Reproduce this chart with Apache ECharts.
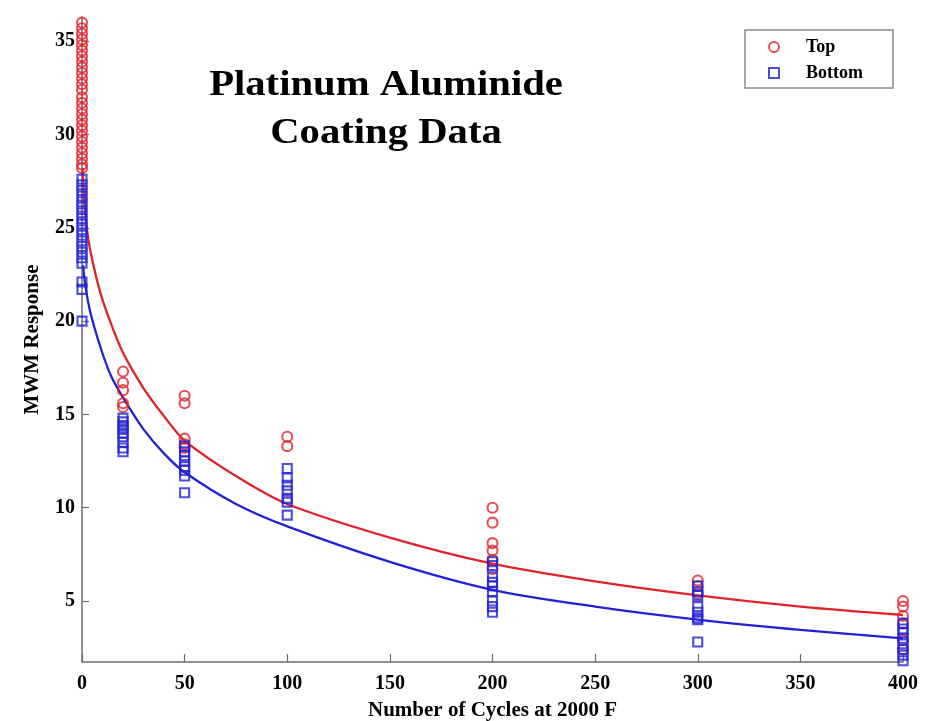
<!DOCTYPE html>
<html>
<head>
<meta charset="utf-8">
<script src="https://cdn.jsdelivr.net/npm/echarts@6/dist/echarts.min.js"></script>
<style>
  html, body { margin: 0; padding: 0; background: #fff; }
  #main { width: 935px; height: 721px; }
</style>
</head>
<body>
<div id="main"></div>
<script>
// measured cycles and the MWM readings at each one
const cycles = [0, 20, 50, 100, 200, 300, 400];
const topReadings = [
  [36.0, 35.7, 35.4, 35.1, 34.8, 34.5, 34.2, 33.9, 33.6, 33.3, 33.0, 32.7, 32.4, 32.0,
   31.7, 31.4, 31.1, 30.8, 30.5, 30.2, 29.9, 29.6, 29.3, 29.0, 28.7, 28.4, 28.2],
  [17.3, 16.7, 16.3, 15.6, 15.4],
  [16.0, 15.6, 13.7, 13.4, 13.2],
  [13.8, 13.3],
  [10.0, 9.2, 8.1, 7.7, 7.2, 6.7],
  [6.1, 5.8, 5.4],
  [5.0, 4.7, 4.2, 3.8, 2.9, 2.4]
];
const bottomReadings = [
  [27.6, 27.3, 27.0, 26.7, 26.4, 26.1, 25.8, 25.5, 25.2, 24.9, 24.6, 24.3, 24.0,
   23.7, 23.4, 23.1, 22.1, 21.7, 20.0],
  [14.8, 14.6, 14.4, 14.2, 14.0, 13.8, 13.5, 13.2, 13.0],
  [13.3, 13.0, 12.8, 12.5, 12.2, 12.0, 11.7, 10.8],
  [12.1, 11.6, 11.2, 10.9, 10.5, 10.3, 9.6],
  [7.1, 6.9, 6.3, 6.0, 5.8, 5.5, 5.0, 4.7, 4.4],
  [5.8, 5.5, 5.3, 4.7, 4.4, 4.1, 4.0, 2.8],
  [3.8, 3.5, 3.3, 3.0, 2.7, 2.4, 2.1, 1.8]
];

// fitted curves
const topFitX = [0.3, 1, 2, 4, 9, 14, 20, 30, 40, 50, 75, 100, 150, 200, 250, 300, 350, 400];
const topFitY = [28.2, 26.6, 25.3, 23.8, 21.5, 19.9, 18.3, 16.4, 14.9, 13.6, 11.7, 10.2, 8.4, 7.0, 6.05, 5.3, 4.7, 4.25];
const bottomFitX = [0.5, 1.5, 4, 9, 14, 20, 30, 40, 50, 75, 100, 150, 200, 250, 300, 350, 400];
const bottomFitY = [23.0, 22.0, 20.5, 18.6, 17.1, 15.9, 14.2, 12.9, 11.9, 10.2, 9.0, 7.1, 5.6, 4.7, 4.0, 3.45, 3.0];

const yTicks = [5, 10, 15, 20, 25, 30, 35];

const RED = "#e0232a";
const BLUE = "#2222d4";
const FONT = "'Liberation Serif', 'Times New Roman', serif";

function toPoints(readings) {
  const out = [];
  readings.forEach(function(vals, i) {
    vals.forEach(function(v) {
      out.push([cycles[i], v]);
    });
  });
  return out;
}
function zip(xs, ys) {
  return xs.map(function(x, i) {
    return [x, ys[i]];
  });
}

const chart = echarts.init(document.getElementById("main"));

const option = {
  backgroundColor: "#fff",
  animation: false,
  grid: {
    left: 82,
    right: 32,
    top: 17,
    bottom: 59,
    outerBoundsMode: "none"
  },
  graphic: [
    {
      type: "text",
      x: 386,
      y: 62,
      scaleX: 1.13,
      z: 10,
      style: {
        text: "Platinum Aluminide\nCoating Data",
        align: "center",
        font: "bold 36px " + FONT,
        lineHeight: 48,
        fill: "#000"
      }
    }
  ],
  legend: {
    data: ["Top", "Bottom"],
    orient: "vertical",
    left: 745,
    top: 30,
    padding: [7, 30, 5, 23],
    itemWidth: 10,
    itemHeight: 10,
    itemGap: 6,
    borderColor: "#8a8a8a",
    borderWidth: 1.5,
    textStyle: {
      fontFamily: FONT,
      fontWeight: "bold",
      fontSize: 18,
      color: "#000",
      lineHeight: 20,
      padding: [0, 0, 0, 22]
    }
  },
  xAxis: {
    type: "value",
    min: 0,
    max: 400,
    interval: 50,
    name: "Number of Cycles at 2000 F",
    nameLocation: "middle",
    nameGap: 38,
    nameTextStyle: {
      fontFamily: FONT,
      fontWeight: "bold",
      fontSize: 21,
      color: "#000"
    },
    axisLine: { lineStyle: { color: "#6e6e6e", width: 1.5 } },
    axisTick: { inside: true, length: 8, lineStyle: { color: "#6e6e6e", width: 1.2 } },
    axisLabel: {
      margin: 12,
      fontFamily: FONT,
      fontWeight: "bold",
      fontSize: 20,
      color: "#000"
    },
    splitLine: { show: false }
  },
  yAxis: {
    type: "value",
    min: 1.73,
    max: 36.3,
    name: "MWM Response",
    nameLocation: "middle",
    nameGap: 39,
    nameTextStyle: {
      fontFamily: FONT,
      fontWeight: "bold",
      fontSize: 21,
      color: "#000"
    },
    axisLine: { show: true, lineStyle: { color: "#6e6e6e", width: 1.5 } },
    axisTick: {
      show: true,
      inside: true,
      length: 7,
      customValues: yTicks,
      lineStyle: { color: "#6e6e6e", width: 1.2 }
    },
    axisLabel: {
      margin: 7,
      customValues: yTicks,
      fontFamily: FONT,
      fontWeight: "bold",
      fontSize: 20,
      color: "#000"
    },
    splitLine: { show: false }
  },
  series: [
    {
      name: "Top fit",
      type: "line",
      data: zip(topFitX, topFitY),
      smooth: 0.3,
      showSymbol: false,
      silent: true,
      lineStyle: { color: RED, width: 2.3 },
      z: 2
    },
    {
      name: "Bottom fit",
      type: "line",
      data: zip(bottomFitX, bottomFitY),
      smooth: 0.3,
      showSymbol: false,
      silent: true,
      lineStyle: { color: BLUE, width: 2.3 },
      z: 2
    },
    {
      name: "Top",
      type: "scatter",
      data: toPoints(topReadings),
      symbol: "circle",
      symbolSize: 10,
      itemStyle: {
        color: "rgba(255,255,255,0)",
        borderColor: RED,
        borderWidth: 2.1
      },
      z: 3
    },
    {
      name: "Bottom",
      type: "scatter",
      data: toPoints(bottomReadings),
      symbol: "rect",
      symbolSize: 9,
      itemStyle: {
        color: "rgba(255,255,255,0)",
        borderColor: BLUE,
        borderWidth: 2.1
      },
      z: 4
    }
  ]
};

chart.setOption(option);
</script>
</body>
</html>
